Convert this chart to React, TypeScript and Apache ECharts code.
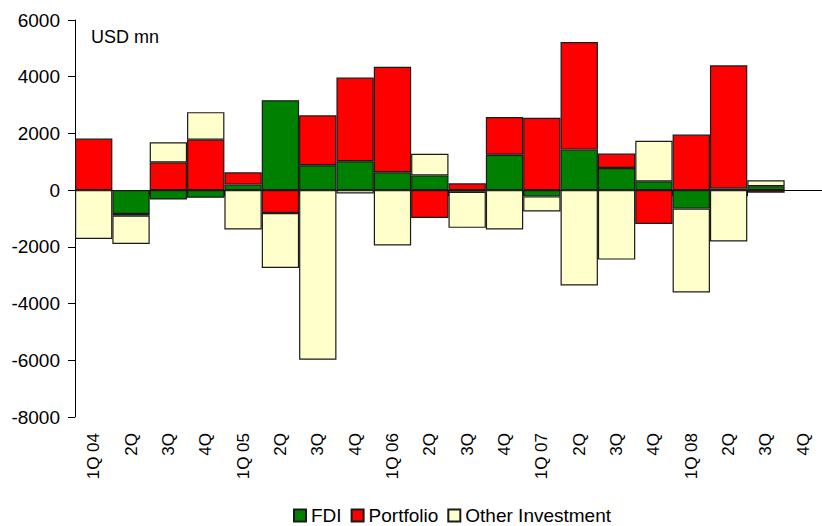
import React, { useEffect, useRef } from "react";
import * as echarts from "echarts";

const categories = ["1Q 04", "2Q", "3Q", "4Q", "1Q 05", "2Q", "3Q", "4Q", "1Q 06", "2Q", "3Q", "4Q", "1Q 07", "2Q", "3Q", "4Q", "1Q 08", "2Q", "3Q", "4Q"];
const fdi: (number | string)[] = [0, -840, -330, -270, 195, 3170, 880, 1020, 630, 520, -60, 1250, -220, 1430, 780, 310, -650, 60, 140, "-"];
const portfolio: (number | string)[] = [1820, -60, 980, 1780, 435, -805, 1760, 2950, 3720, -980, 240, 1330, 2550, 3790, 510, -1190, 1960, 4340, -90, "-"];
const other: (number | string)[] = [-1720, -1000, 710, 970, -1390, -1940, -5980, -120, -1950, 760, -1270, -1390, -530, -3360, -2450, 1430, -2960, -1810, 210, "-"];
const yTicks = { min: -8000, max: 6000, interval: 2000 };

const FONT = "'Liberation Sans', Arial, sans-serif";

export default function App() {
  const ref = useRef<HTMLDivElement>(null);
  useEffect(() => {
    if (!ref.current) return;
    const chart = echarts.init(ref.current, undefined, { renderer: "svg" });
    const barStyle = (color: string) => ({ color, borderColor: "#1a1a1a", borderWidth: 1.2 });
    chart.setOption({
      animation: false,
      backgroundColor: "#ffffff",
      textStyle: { fontFamily: FONT },
      grid: { left: 75, top: 20, bottom: 109, right: -9, containLabel: false },
      legend: {
        left: 293,
        top: 506,
        padding: 0,
        icon: "rect",
        itemWidth: 12,
        itemHeight: 12,
        itemGap: 9,
        textStyle: { fontSize: 19, color: "#000", fontFamily: FONT, lineHeight: 19 },
        data: ["FDI", "Portfolio", "Other Investment"],
      },
      graphic: [
        {
          type: "text",
          left: 91,
          top: 28,
          style: { text: "USD mn", fontSize: 18, fill: "#000", fontFamily: FONT },
        },
      ],
      xAxis: [
        {
          type: "category",
          data: categories,
          position: "bottom",
          axisLine: { onZero: true, lineStyle: { color: "#000", width: 1 } },
          axisTick: { show: true, length: 6, lineStyle: { color: "#000" } },
          axisLabel: { show: false },
          splitLine: { show: false },
        },
        {
          type: "category",
          data: categories,
          position: "bottom",
          axisLine: { show: false, onZero: false },
          axisTick: { show: false },
          axisLabel: { show: true, rotate: 90, margin: 16, fontSize: 17, color: "#000", fontFamily: FONT, interval: 0 },
          splitLine: { show: false },
        },
      ],
      yAxis: {
        type: "value",
        min: yTicks.min,
        max: yTicks.max,
        interval: yTicks.interval,
        axisLine: { show: true, lineStyle: { color: "#000", width: 1 } },
        axisTick: { show: true, length: 7, lineStyle: { color: "#000" } },
        axisLabel: { fontSize: 19, color: "#000", margin: 15, fontFamily: FONT, formatter: (v: number) => String(v) },
        splitLine: { show: false },
      },
      series: [
        { name: "FDI", type: "bar", stack: "all", data: fdi, xAxisIndex: 0, barCategoryGap: "0%", itemStyle: barStyle("#008000") },
        { name: "Portfolio", type: "bar", stack: "all", data: portfolio, xAxisIndex: 0, barCategoryGap: "0%", itemStyle: barStyle("#ff0000") },
        { name: "Other Investment", type: "bar", stack: "all", data: other, xAxisIndex: 0, barCategoryGap: "0%", itemStyle: barStyle("#ffffcc") },
      ],
    });
    return () => chart.dispose();
  }, []);
  return <div ref={ref} style={{ position: "fixed", left: 0, top: 0, width: 822, height: 526 }} />;
}
